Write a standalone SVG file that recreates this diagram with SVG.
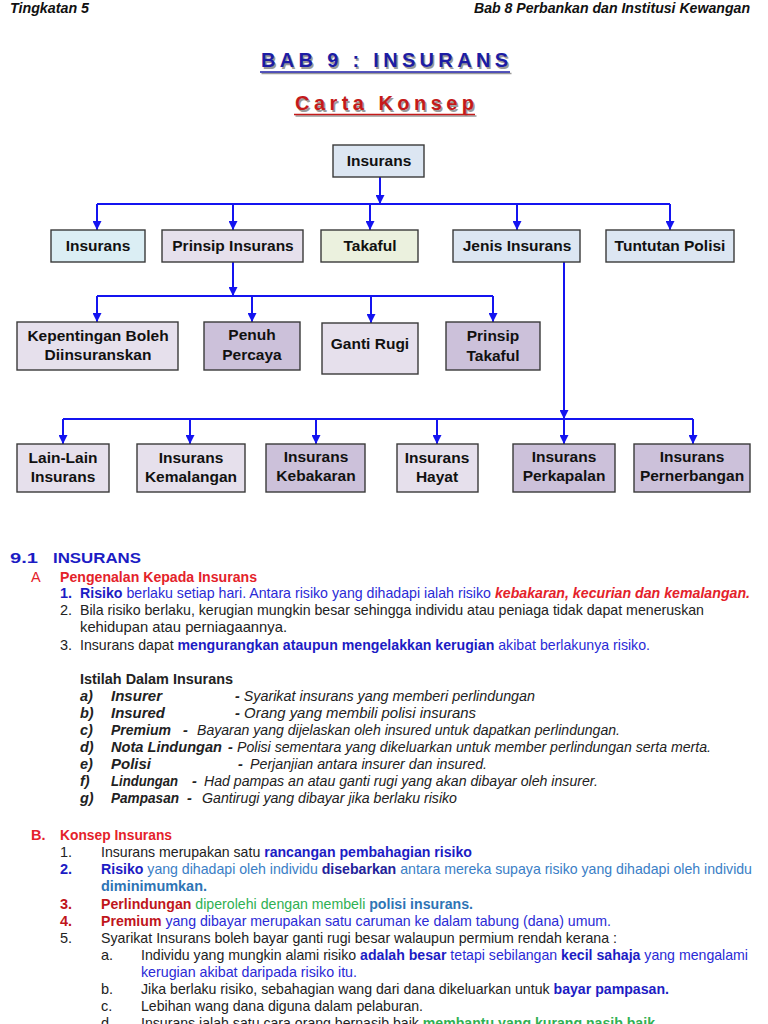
<svg xmlns="http://www.w3.org/2000/svg" width="768" height="1024" viewBox="0 0 768 1024">
<style>
.hd{font-family:"Liberation Sans Narrow","Liberation Sans",Arial,sans-serif;font-size:14px;font-weight:bold;font-style:italic;fill:#111}
.ttl{font-family:"Liberation Sans",Arial,sans-serif;font-size:20px;font-weight:bold}
.box{stroke:#3a3a3a;stroke-width:1.4}
.lb{font-family:"Liberation Sans",Arial,sans-serif;font-size:15.5px;font-weight:bold;fill:#111;text-anchor:middle}
.cn{stroke:#1414f0;stroke-width:2;fill:none}
.t{font-family:"Liberation Sans Narrow","Liberation Sans",Arial,sans-serif;font-size:14.5px;fill:#222}
.bo{font-weight:bold}
.it{font-style:italic}
.blu{fill:#2a2ad6}
.dblu{fill:#1c1cc4}
.red{fill:#e4222a}
.dred{fill:#c0151b}
.stl{fill:#3a7ec6}
.stb{fill:#2e74b5}
.grn{fill:#2fb052}
.nav{fill:#22229a}
</style>
<defs>
<marker id="ah" viewBox="0 0 10 10" refX="10" refY="5" markerWidth="4.5" markerHeight="4.5" markerUnits="strokeWidth" orient="auto">
<path d="M0,0 L10,5 L0,10 z" fill="#1414f0"/>
</marker>
</defs>
<rect width="768" height="1024" fill="#fff"/>

<g id="header">
<text class="hd" x="10" y="13" textLength="79" lengthAdjust="spacingAndGlyphs">Tingkatan 5</text>
<text class="hd" x="474" y="13" textLength="276" lengthAdjust="spacingAndGlyphs">Bab 8 Perbankan dan Institusi Kewangan</text>
</g>

<g id="title">
<text class="ttl" x="262.5" y="68.5" fill="#9a9a9a" textLength="247" lengthAdjust="spacing">BAB 9 : INSURANS</text>
<line x1="261.5" y1="73.5" x2="511.5" y2="73.5" stroke="#9a9a9a" stroke-width="1.6"/>
<text class="ttl" x="261" y="67" fill="#1c1ca4" textLength="247" lengthAdjust="spacing">BAB 9 : INSURANS</text>
<line x1="260" y1="72" x2="510" y2="72" stroke="#1c1ca4" stroke-width="1.6"/>
<text class="ttl" x="296.5" y="111.5" fill="#9a9a9a" textLength="179" lengthAdjust="spacing">Carta Konsep</text>
<line x1="295.5" y1="116" x2="476.5" y2="116" stroke="#9a9a9a" stroke-width="1.6"/>
<text class="ttl" x="295" y="110" fill="#c41a1a" textLength="179" lengthAdjust="spacing">Carta Konsep</text>
<line x1="294" y1="114.5" x2="475" y2="114.5" stroke="#c41a1a" stroke-width="1.6"/>
</g>

<g id="connectors">
<path class="cn" d="M380,177 V204" marker-end="url(#ah)"/>
<path class="cn" d="M97,204 H670"/>
<path class="cn" d="M97,204 V230" marker-end="url(#ah)"/>
<path class="cn" d="M233,204 V230" marker-end="url(#ah)"/>
<path class="cn" d="M370,204 V230" marker-end="url(#ah)"/>
<path class="cn" d="M517,204 V230" marker-end="url(#ah)"/>
<path class="cn" d="M670,204 V230" marker-end="url(#ah)"/>
<path class="cn" d="M233,262 V296" marker-end="url(#ah)"/>
<path class="cn" d="M97,296 H493"/>
<path class="cn" d="M97,296 V322" marker-end="url(#ah)"/>
<path class="cn" d="M252,296 V322" marker-end="url(#ah)"/>
<path class="cn" d="M371,296 V323" marker-end="url(#ah)"/>
<path class="cn" d="M493,296 V322" marker-end="url(#ah)"/>
<path class="cn" d="M564,262 V419" marker-end="url(#ah)"/>
<path class="cn" d="M63,419 H693"/>
<path class="cn" d="M63,419 V444" marker-end="url(#ah)"/>
<path class="cn" d="M190,419 V444" marker-end="url(#ah)"/>
<path class="cn" d="M316,419 V444" marker-end="url(#ah)"/>
<path class="cn" d="M437,419 V444" marker-end="url(#ah)"/>
<path class="cn" d="M564,419 V444" marker-end="url(#ah)"/>
<path class="cn" d="M693,419 V444" marker-end="url(#ah)"/>
</g>

<g id="n-insurans-top"><rect class="box" x="333" y="145" width="91" height="32" fill="#dce6f2"/><text class="lb" x="379" y="166">Insurans</text></g>
<g id="n-insurans"><rect class="box" x="51" y="230" width="94" height="32" fill="#dbeef4"/><text class="lb" x="98" y="251">Insurans</text></g>
<g id="n-prinsip"><rect class="box" x="162" y="230" width="141" height="32" fill="#e6e0ec"/><text class="lb" x="233" y="251">Prinsip Insurans</text></g>
<g id="n-takaful"><rect class="box" x="321" y="230" width="97" height="32" fill="#ebf1de"/><text class="lb" x="370" y="251">Takaful</text></g>
<g id="n-jenis"><rect class="box" x="453" y="230" width="127" height="32" fill="#dce6f2"/><text class="lb" x="517" y="251">Jenis Insurans</text></g>
<g id="n-tuntutan"><rect class="box" x="606" y="230" width="128" height="32" fill="#dce6f2"/><text class="lb" x="670" y="251">Tuntutan Polisi</text></g>

<g id="n-kepentingan"><rect class="box" x="17" y="322" width="161" height="48" fill="#e6e0ec"/><text class="lb" x="98" y="341">Kepentingan Boleh</text><text class="lb" x="98" y="360">Diinsuranskan</text></g>
<g id="n-penuh"><rect class="box" x="204" y="322" width="96" height="48" fill="#ccc1da"/><text class="lb" x="252" y="340">Penuh</text><text class="lb" x="252" y="360">Percaya</text></g>
<g id="n-ganti"><rect class="box" x="322" y="323" width="96" height="51" fill="#e6e0ec"/><text class="lb" x="370" y="349">Ganti Rugi</text></g>
<g id="n-prinsip-takaful"><rect class="box" x="446" y="322" width="94" height="48" fill="#ccc1da"/><text class="lb" x="493" y="341">Prinsip</text><text class="lb" x="493" y="361">Takaful</text></g>

<g id="n-lain"><rect class="box" x="17" y="444" width="92" height="48" fill="#e6e0ec"/><text class="lb" x="63" y="463">Lain-Lain</text><text class="lb" x="63" y="482">Insurans</text></g>
<g id="n-kemalangan"><rect class="box" x="137" y="444" width="108" height="48" fill="#e6e0ec"/><text class="lb" x="191" y="463">Insurans</text><text class="lb" x="191" y="482">Kemalangan</text></g>
<g id="n-kebakaran"><rect class="box" x="266" y="444" width="99" height="48" fill="#ccc1da"/><text class="lb" x="316" y="462">Insurans</text><text class="lb" x="316" y="481">Kebakaran</text></g>
<g id="n-hayat"><rect class="box" x="397" y="444" width="81" height="48" fill="#e6e0ec"/><text class="lb" x="437" y="463">Insurans</text><text class="lb" x="437" y="482">Hayat</text></g>
<g id="n-perkapalan"><rect class="box" x="513" y="444" width="102" height="48" fill="#ccc1da"/><text class="lb" x="564" y="462">Insurans</text><text class="lb" x="564" y="481">Perkapalan</text></g>
<g id="n-pernerbangan"><rect class="box" x="634" y="444" width="116" height="48" fill="#ccc1da"/><text class="lb" x="692" y="462">Insurans</text><text class="lb" x="692" y="481">Pernerbangan</text></g>

<g id="text-9-1">
<text class="t bo dblu" x="10" y="563" font-size="16" textLength="28" lengthAdjust="spacingAndGlyphs">9.1</text>
<text class="t bo dblu" x="53" y="563" font-size="16" textLength="88" lengthAdjust="spacingAndGlyphs">INSURANS</text>
<text class="t red" x="31" y="582">A</text>
<text class="t bo red" x="60" y="582" textLength="197" lengthAdjust="spacingAndGlyphs">Pengenalan Kepada Insurans</text>
<text class="t bo dblu" x="60" y="598">1.</text>
<text class="t" x="80" y="598" textLength="670" lengthAdjust="spacingAndGlyphs"><tspan class="bo dblu">Risiko</tspan><tspan class="blu"> berlaku setiap hari. Antara risiko yang dihadapi ialah risiko </tspan><tspan class="bo it red">kebakaran, kecurian dan kemalangan.</tspan></text>
<text class="t" x="60" y="615">2.</text>
<text class="t" x="80" y="615" textLength="624" lengthAdjust="spacingAndGlyphs">Bila risiko berlaku, kerugian mungkin besar sehingga individu atau peniaga tidak dapat meneruskan</text>
<text class="t" x="80" y="632" textLength="207" lengthAdjust="spacingAndGlyphs">kehidupan atau perniagaannya.</text>
<text class="t" x="60" y="650">3.</text>
<text class="t" x="80" y="650" textLength="570" lengthAdjust="spacingAndGlyphs">Insurans dapat <tspan class="bo dblu">mengurangkan ataupun mengelakkan kerugian</tspan><tspan class="blu"> akibat berlakunya risiko.</tspan></text>
</g>

<g id="text-istilah">
<text class="t bo" x="80" y="684" textLength="153" lengthAdjust="spacingAndGlyphs">Istilah Dalam Insurans</text>
<text class="t bo it" x="80" y="701">a)</text>
<text class="t bo it" x="111" y="701" textLength="51" lengthAdjust="spacingAndGlyphs">Insurer</text>
<text class="t it" x="235" y="701" textLength="300" lengthAdjust="spacingAndGlyphs"><tspan class="bo">-</tspan> Syarikat insurans yang memberi perlindungan</text>
<text class="t bo it" x="80" y="718">b)</text>
<text class="t bo it" x="111" y="718" textLength="54" lengthAdjust="spacingAndGlyphs">Insured</text>
<text class="t it" x="235" y="718" textLength="241" lengthAdjust="spacingAndGlyphs"><tspan class="bo">-</tspan> Orang yang membili polisi insurans</text>
<text class="t bo it" x="80" y="735">c)</text>
<text class="t bo it" x="111" y="735" textLength="60" lengthAdjust="spacingAndGlyphs">Premium</text>
<text class="t bo it" x="183" y="735">-</text>
<text class="t it" x="197" y="735" textLength="423" lengthAdjust="spacingAndGlyphs">Bayaran yang dijelaskan oleh insured untuk dapatkan perlindungan.</text>
<text class="t bo it" x="80" y="752">d)</text>
<text class="t bo it" x="111" y="752" textLength="111" lengthAdjust="spacingAndGlyphs">Nota Lindungan</text>
<text class="t bo it" x="228" y="752">-</text>
<text class="t it" x="237" y="752" textLength="474" lengthAdjust="spacingAndGlyphs">Polisi sementara yang dikeluarkan untuk member perlindungan serta merta.</text>
<text class="t bo it" x="80" y="769">e)</text>
<text class="t bo it" x="111" y="769" textLength="40" lengthAdjust="spacingAndGlyphs">Polisi</text>
<text class="t bo it" x="238" y="769">-</text>
<text class="t it" x="250" y="769" textLength="237" lengthAdjust="spacingAndGlyphs">Perjanjian antara insurer dan insured.</text>
<text class="t bo it" x="80" y="786">f)</text>
<text class="t bo it" x="111" y="786" textLength="67" lengthAdjust="spacingAndGlyphs">Lindungan</text>
<text class="t bo it" x="192" y="786">-</text>
<text class="t it" x="204" y="786" textLength="394" lengthAdjust="spacingAndGlyphs">Had pampas an atau ganti rugi yang akan dibayar oleh insurer.</text>
<text class="t bo it" x="80" y="803">g)</text>
<text class="t bo it" x="111" y="803" textLength="68" lengthAdjust="spacingAndGlyphs">Pampasan</text>
<text class="t bo it" x="187" y="803">-</text>
<text class="t it" x="202" y="803" textLength="255" lengthAdjust="spacingAndGlyphs">Gantirugi yang dibayar jika berlaku risiko</text>
</g>

<g id="text-konsep">
<text class="t bo red" x="31" y="840">B.</text>
<text class="t bo red" x="60" y="840" textLength="112" lengthAdjust="spacingAndGlyphs">Konsep Insurans</text>
<text class="t" x="60" y="857">1.</text>
<text class="t" x="101" y="857" textLength="371" lengthAdjust="spacingAndGlyphs">Insurans merupakan satu <tspan class="bo dblu">rancangan pembahagian risiko</tspan></text>
<text class="t bo dblu" x="60" y="874">2.</text>
<text class="t" x="101" y="874" textLength="651" lengthAdjust="spacingAndGlyphs"><tspan class="bo dblu">Risiko</tspan><tspan class="stl"> yang dihadapi oleh individu </tspan><tspan class="bo nav">disebarkan</tspan><tspan class="stl"> antara mereka supaya risiko yang dihadapi oleh individu</tspan></text>
<text class="t bo stb" x="101" y="891" textLength="106" lengthAdjust="spacingAndGlyphs">diminimumkan.</text>
<text class="t bo dred" x="60" y="909">3.</text>
<text class="t" x="101" y="909" textLength="372" lengthAdjust="spacingAndGlyphs"><tspan class="bo dred">Perlindungan</tspan><tspan class="grn"> diperolehi dengan membeli </tspan><tspan class="bo stb">polisi insurans.</tspan></text>
<text class="t bo dred" x="60" y="926">4.</text>
<text class="t" x="101" y="926" textLength="510" lengthAdjust="spacingAndGlyphs"><tspan class="bo dred">Premium</tspan><tspan class="blu"> yang dibayar merupakan satu caruman ke dalam tabung (dana) umum.</tspan></text>
<text class="t" x="60" y="943">5.</text>
<text class="t" x="101" y="943" textLength="516" lengthAdjust="spacingAndGlyphs">Syarikat Insurans boleh bayar ganti rugi besar walaupun permium rendah kerana :</text>
<text class="t" x="101" y="960">a.</text>
<text class="t" x="141" y="960" textLength="607" lengthAdjust="spacingAndGlyphs">Individu yang mungkin alami risiko <tspan class="bo dblu">adalah besar</tspan><tspan class="blu"> tetapi sebilangan </tspan><tspan class="bo dblu">kecil sahaja</tspan><tspan class="blu"> yang mengalami</tspan></text>
<text class="t blu" x="141" y="977" textLength="216" lengthAdjust="spacingAndGlyphs">kerugian akibat daripada risiko itu.</text>
<text class="t" x="101" y="994">b.</text>
<text class="t" x="141" y="994" textLength="528" lengthAdjust="spacingAndGlyphs">Jika berlaku risiko, sebahagian wang dari dana dikeluarkan untuk <tspan class="bo dblu">bayar pampasan.</tspan></text>
<text class="t" x="101" y="1011">c.</text>
<text class="t" x="141" y="1011" textLength="282" lengthAdjust="spacingAndGlyphs">Lebihan wang dana diguna dalam pelaburan.</text>
<text class="t" x="101" y="1028">d.</text>
<text class="t" x="141" y="1028" textLength="514" lengthAdjust="spacingAndGlyphs">Insurans ialah satu cara orang bernasib baik <tspan class="bo grn">membantu yang kurang nasib baik</tspan></text>
</g>
</svg>
